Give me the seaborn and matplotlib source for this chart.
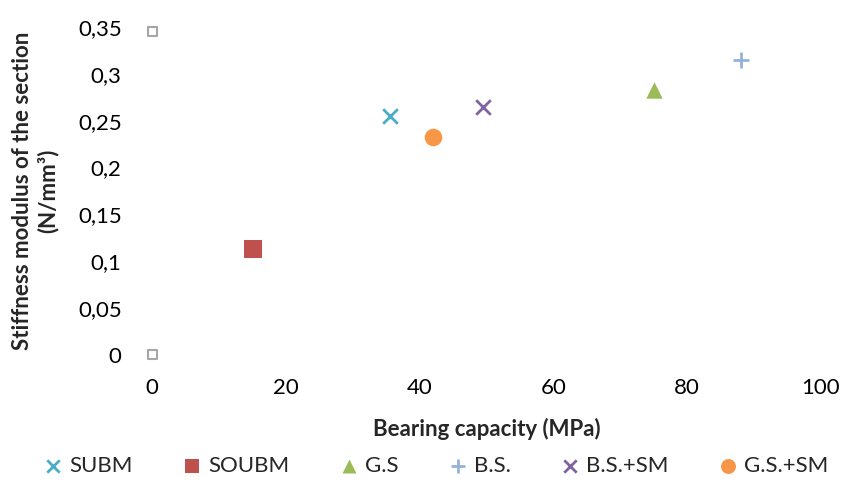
import matplotlib
matplotlib.use("Agg")
import matplotlib.pyplot as plt
import seaborn as sns
import pandas as pd

series = ["SUBM", "SOUBM", "G.S", "B.S.", "B.S.+SM", "G.S.+SM"]
bearing = [35.5, 15.0, 75.0, 88.0, 49.5, 42.0]
stiffness = [0.255, 0.113, 0.283, 0.315, 0.265, 0.233]
extra_x = [0.0, 0.0]
extra_y = [0.0, 0.345]

colors = ["#4BACC6", "#C0504D", "#9BBB59", "#95B3D7", "#8064A2", "#F79646"]
markers = ["x", "s", "^", "+", "x", "o"]
sizes = [110, 150, 140, 140, 110, 160]

sns.set_theme(style="white")
plt.rcParams['font.family'] = ['Lato', 'DejaVu Sans']

fig = plt.figure(figsize=(8.41, 4.84), dpi=100)
ax = fig.add_axes([0.181, 0.267, 0.795, 0.677])

df = pd.DataFrame({"x": bearing, "y": stiffness, "s": series})
for i, name in enumerate(series):
    sub = df[df["s"] == name]
    sns.scatterplot(data=sub, x="x", y="y", ax=ax, color=colors[i], marker=markers[i],
                    s=sizes[i], linewidth=2 if markers[i] in ("x", "+") else 0,
                    label=name, clip_on=False, zorder=3)

ax.scatter(extra_x, extra_y, marker="s", s=40, facecolors="none", edgecolors="#A6A6A6",
           linewidths=1.5, clip_on=False, zorder=3)

ax.set_xlim(0, 100)
ax.set_ylim(0, 0.35)
ax.set_xticks([0, 20, 40, 60, 80, 100])
ax.set_xticklabels(["0", "20", "40", "60", "80", "100"])
ax.set_yticks([0, 0.05, 0.1, 0.15, 0.2, 0.25, 0.3, 0.35])
ax.set_yticklabels(["0", "0,05", "0,1", "0,15", "0,2", "0,25", "0,3", "0,35"])
for sp in ax.spines.values():
    sp.set_visible(False)
ax.tick_params(axis="both", labelsize=16, colors="#000000", length=0)
ax.tick_params(axis="y", pad=22)
ax.tick_params(axis="x", pad=17)

ax.set_xlabel("Bearing capacity (MPa)", fontsize=16, fontweight="bold", labelpad=14)
ax.set_ylabel("Stiffness modulus of the section\n(N/mm³)", fontsize=16, fontweight="bold", labelpad=14)

leg = ax.legend(loc="center", bbox_to_anchor=(0.42, -0.34), ncol=6, frameon=False,
                fontsize=16, handletextpad=0.0, columnspacing=2.0, markerscale=0.85,
                handlelength=1.4)

fig.savefig("out.png", dpi=100)
